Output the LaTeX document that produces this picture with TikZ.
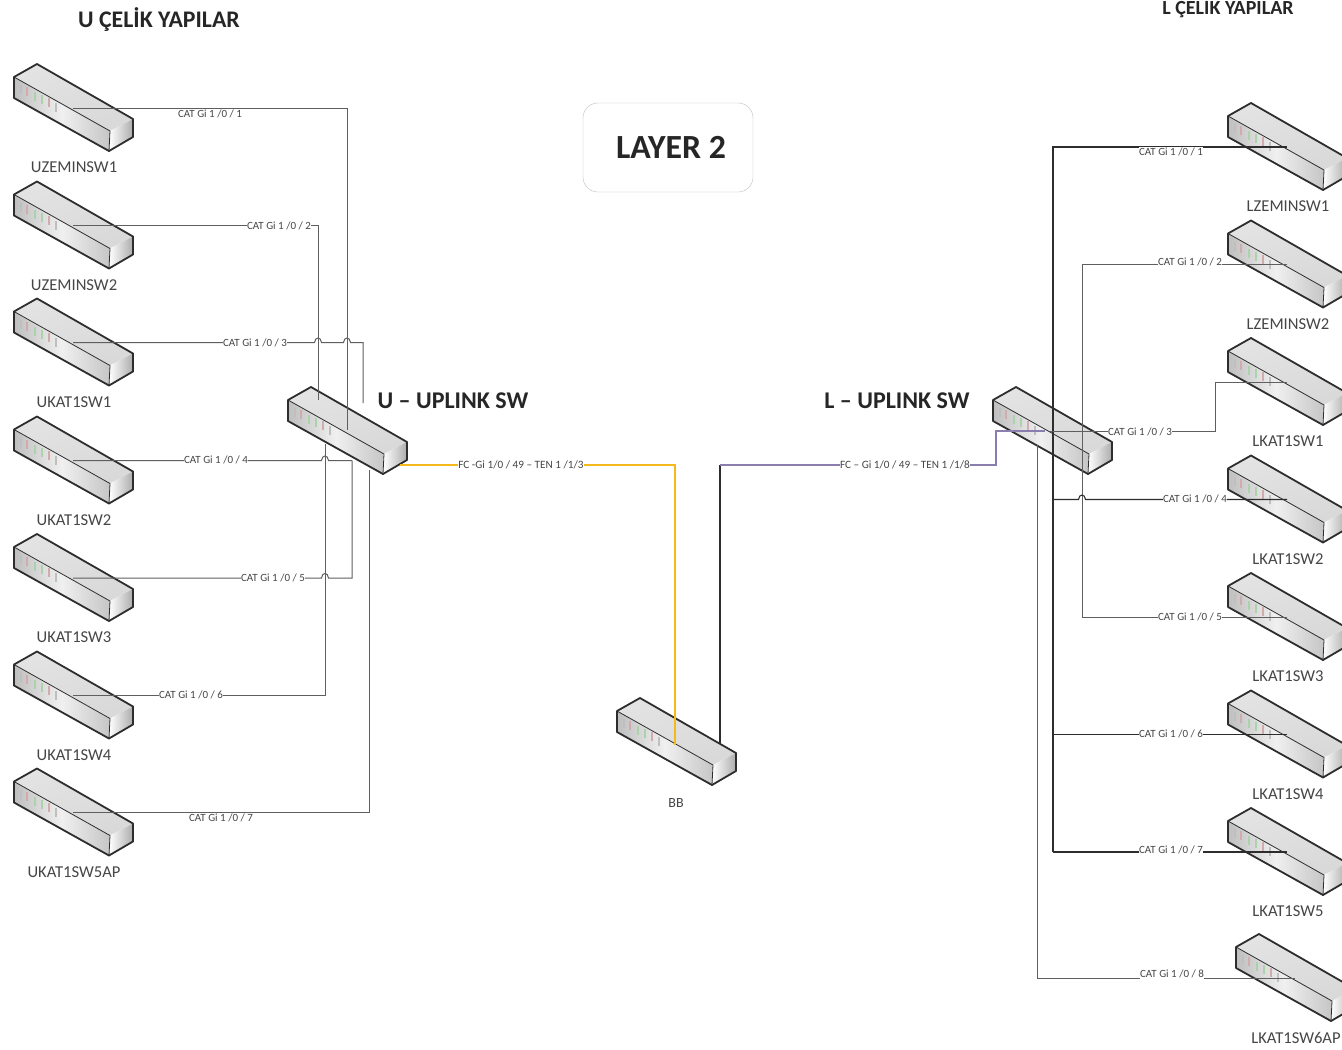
\documentclass[tikz,border=0pt]{standalone}
\usepackage{fontspec}
\setmainfont{Carlito}
\usepackage{xcolor}
\definecolor{myyellow}{RGB}{245,185,30}
\definecolor{mypurple}{RGB}{140,125,175}
\definecolor{mygray}{RGB}{95,95,95}
\definecolor{mydark}{RGB}{45,45,45}
\definecolor{mytext}{RGB}{70,70,70}
\newcommand{\hop}[2]{-- (#1-3.5,#2) .. controls (#1-3,#2-6) and (#1+3,#2-6) .. (#1+3.5,#2)}
\tikzset{
  switchbox/.pic={
    \shade[left color=gray!22,right color=gray!30,shading angle=20]
      (0,13) -- (23,0) -- (119,55) -- (96,67) -- cycle;
    \shade[left color=gray!50,right color=gray!45,middle color=gray!12]
      (0,13) -- (96,67) -- (95,87) -- (0,34) -- cycle;
    \shade[left color=white,right color=gray!65]
      (96,67) -- (119,55) -- (119,73) -- (95,87) -- cycle;
    \foreach \lx/\ly/\lc in {7/21/gray,13/23/red!30!gray,21/28/green!30!gray,28/31/green!30!gray,35/34/red!30!gray,42/39/gray}
      \draw[\lc!50,line width=2pt] (\lx,\ly) -- ++(0,9);
    \draw[mydark,line width=1.8pt,line join=round]
      (0,13) -- (23,0) -- (119,55) -- (119,73) -- (95,87) -- (0,34) -- cycle;
    \draw[mydark,line width=.8pt] (0,13) -- (96,67) -- (95,87);
    \coordinate (-port) at (59,44);
  }}
\begin{document}
\begin{tikzpicture}[x=1pt,y=-1pt,
  swlabel/.style={font=\fontsize{16.6}{18}\selectfont,text=mytext},
  catlabel/.style={font=\fontsize{11}{12}\selectfont,text=mytext,fill=white,inner sep=.5pt},
  fclabel/.style={catlabel,font=\fontsize{11.2}{12}\selectfont},
  heading/.style={font=\bfseries\fontsize{23.8}{26}\selectfont,text=black!85},
  uplink/.style={font=\bfseries\fontsize{24}{26}\selectfont,text=black!85},
  cable/.style={mygray,line width=1pt},
  darkcable/.style={mydark,line width=1.1pt}]
\clip (0,0) rectangle (1342,1050);
\fill[white] (0,0) rectangle (1342,1050);

% switches
\foreach \name/\x/\y/\txt in {
  uz1/14/64/UZEMINSW1,uz2/14/181.5/UZEMINSW2,uk1/14/298.5/UKAT1SW1,uk2/14/416.5/UKAT1SW2,
  uk3/14/534/UKAT1SW3,uk4/14/651.5/UKAT1SW4,uk5/14/768.5/UKAT1SW5AP,
  lz1/1228/103/LZEMINSW1,lz2/1228/220.5/LZEMINSW2,lk1/1228/338/LKAT1SW1,lk2/1228/455.5/LKAT1SW2,
  lk3/1228/573/LKAT1SW3,lk4/1228/690.5/LKAT1SW4,lk5/1228/808/LKAT1SW5,lk6/1236/934/LKAT1SW6AP}{
  \pic (\name) at (\x,\y) {switchbox};
  \node[swlabel] (\name-lbl) at (\x+60,\y+103.5) {\txt};
}
\pic (usw) at (288,387) {switchbox};
\pic (lsw) at (993,387) {switchbox};
\pic (bb)  at (617,698) {switchbox};
\node[swlabel,font=\fontsize{14}{16}\selectfont] (bb-lbl) at (676,803) {BB};

% titles
\node[heading] (utitle) at (159,20) {U ÇELİK YAPILAR};
\node[heading,font=\bfseries\fontsize{20}{22}\selectfont] (ltitle) at (1228,8) {L ÇELİK YAPILAR};
\node[uplink] (utxt) at (453,401) {U – UPLINK SW};
\node[uplink] (ltxt) at (897,401) {L – UPLINK SW};
\node[draw=gray!50,rounded corners=15pt,minimum width=170pt,minimum height=89pt,
      font=\bfseries\fontsize{33.8}{36}\selectfont,text=black!85] (layer) at (668,147.5) {\hspace{6pt}LAYER 2};

% ends of the cables on the uplink switches
\coordinate (ua) at (318,400);
\coordinate (ub) at (347,430);
\coordinate (uc) at (363,403);
\coordinate (ud) at (352,460.5);
\coordinate (ue) at (325,444);
\coordinate (uf) at (369,470);
\coordinate (ug) at (400,465);
\coordinate (bba) at (675,745);
\coordinate (bbb) at (720,743);
\coordinate (lup) at (1045,431);
\coordinate (lbk) at (996,465);
\coordinate (lport) at (1050,431);
\coordinate (ltr) at (1053,852);
\coordinate (ljd) at (1053,499.5);
\coordinate (ljf) at (1053,734.5);
\coordinate (lse) at (1082,617);
\coordinate (lwb) at (1037,445);
\coordinate (lbn) at (1215,431);

% U side
\draw[cable] (uz1-port) -| (ub);
\draw[cable] (uz2-port) -| (ua);
\draw[cable] (uk1-port) \hop{318}{342.5} \hop{347}{342.5} -| (uc);
\draw[cable] (uk2-port) \hop{325}{460.5} -- (ud);
\draw[cable] (uk3-port) \hop{325}{578} -| (ud);
\draw[cable] (uk4-port) -| (ue);
\draw[cable] (uk5-port) -| (uf);

% L side
\draw[darkcable] (lz1-port) -| (ltr);
\draw[cable] (lz2-port) -| (lse);
\draw[cable] (lport) -- (lbn) |- (lk1-port);
\draw[darkcable] (ljd) \hop{1082}{499.5} -- (lk2-port);
\draw[cable] (lk3-port) -- (lse);
\draw[darkcable] (ljf) -- (lk4-port);
\draw[darkcable] (lk5-port) -- (ltr);
\draw[cable] (lk6-port) -| (lwb);

% uplinks
\draw[myyellow,line width=1.8pt] (ug) -| (bba);
\draw[darkcable,line width=1.5pt] (bbb) -- (720,465);
\draw[mypurple,line width=1.2pt] (720,465) -- (lbk) |- (lup);

% labels
\node[catlabel] (c1) at (210,113.5) {CAT Gi 1 /0 / 1};
\node[catlabel] (c2) at (279,226) {CAT Gi 1 /0 / 2};
\node[catlabel] (c3) at (255,343) {CAT Gi 1 /0 / 3};
\node[catlabel] (c4) at (216,460) {CAT Gi 1 /0 / 4};
\node[catlabel] (c5) at (273,577.5) {CAT Gi 1 /0 / 5};
\node[catlabel] (c6) at (191,695) {CAT Gi 1 /0 / 6};
\node[catlabel] (c7) at (221,817.5) {CAT Gi 1 /0 / 7};
\node[catlabel] (d1) at (1171,152) {CAT Gi 1 /0 / 1};
\node[catlabel] (d2) at (1190,262) {CAT Gi 1 /0 / 2};
\node[catlabel] (d3) at (1140,432) {CAT Gi 1 /0 / 3};
\node[catlabel] (d4) at (1195,499) {CAT Gi 1 /0 / 4};
\node[catlabel] (d5) at (1190,617) {CAT Gi 1 /0 / 5};
\node[catlabel] (d6) at (1171,734) {CAT Gi 1 /0 / 6};
\node[catlabel] (d7) at (1171,850) {CAT Gi 1 /0 / 7};
\node[catlabel] (d8) at (1172,974) {CAT Gi 1 /0 / 8};
\node[fclabel] (fcu) at (521,465) {FC -Gi 1/0 / 49 – TEN 1 /1/3};
\node[fclabel] (fcl) at (905,465) {FC – Gi 1/0 / 49 – TEN 1 /1/8};
\end{tikzpicture}
\end{document}
